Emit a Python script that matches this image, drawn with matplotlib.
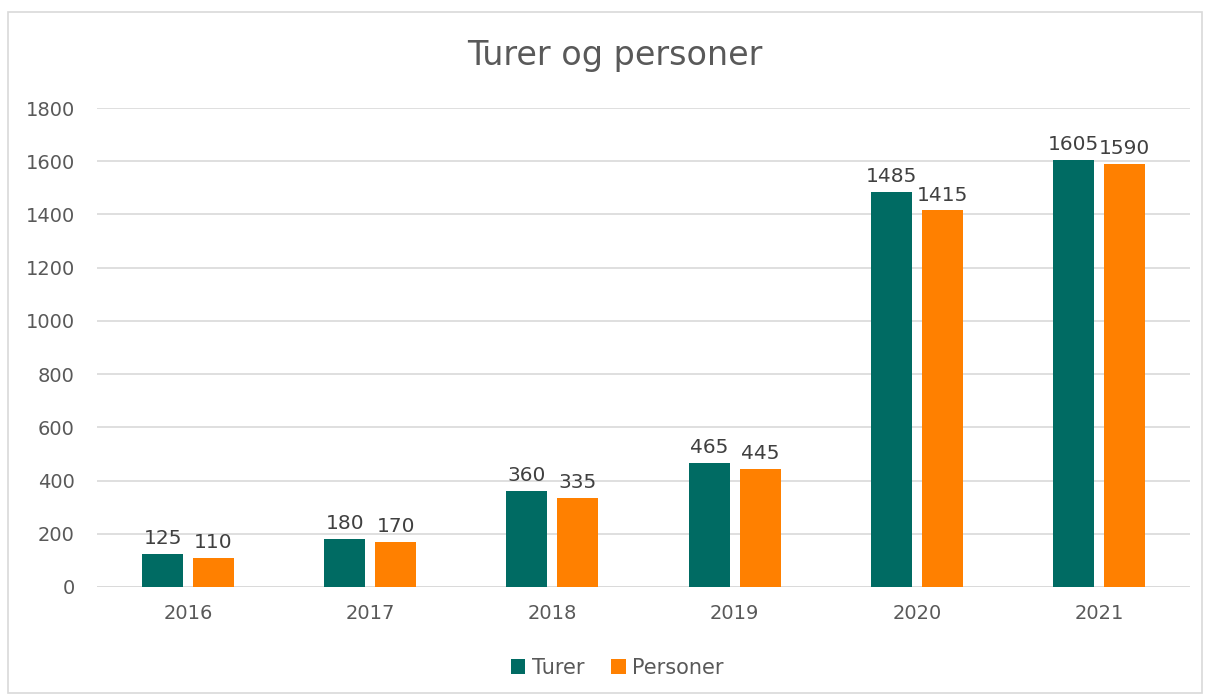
import matplotlib
matplotlib.use("Agg")
import matplotlib.pyplot as plt
import numpy as np
from matplotlib.patches import Rectangle

years = ["2016", "2017", "2018", "2019", "2020", "2021"]
turer = [125, 180, 360, 465, 1485, 1605]
personer = [110, 170, 335, 445, 1415, 1590]

teal = "#006B63"
orange = "#FF8000"
txt = "#595959"

plt.rcParams['font.family'] = ['DejaVu Sans']

fig = plt.figure(figsize=(12.1, 6.99), dpi=100)
fig.patches.append(Rectangle((8 / 1210, 6 / 699), 1194 / 1210, 681 / 699,
                             transform=fig.transFigure, fill=False,
                             edgecolor="#D9D9D9", lw=1.2))
ax = fig.add_axes([97 / 1210, 112 / 699, 1093 / 1210, 479 / 699])

x = np.arange(len(years))
w = 0.225
off = 0.14
b1 = ax.bar(x - off, turer, w, color=teal, label="Turer", zorder=3)
b2 = ax.bar(x + off, personer, w, color=orange, label="Personer", zorder=3)

for bars in (b1, b2):
    for r in bars:
        ax.text(r.get_x() + r.get_width() / 2, r.get_height() + 22, "%d" % r.get_height(),
                ha="center", va="bottom", fontsize=14.5, color="#404040")

ax.set_xlim(-0.5, len(years) - 0.5)
ax.set_ylim(0, 1800)
ax.set_yticks(range(0, 1801, 200))
ax.set_xticks(x)
ax.set_xticklabels(years)
ax.tick_params(axis="both", length=0, labelsize=14, labelcolor=txt)
ax.tick_params(axis="y", pad=16)
ax.tick_params(axis="x", pad=12)
ax.grid(axis="y", color="#D9D9D9", lw=1.2, zorder=0)
for s in ax.spines.values():
    s.set_visible(False)
ax.axhline(0, color="#D9D9D9", lw=1.2, zorder=2)

fig.text(0.508, 0.921, "Turer og personer", ha="center", va="center", fontsize=24, color=txt)
fig.legend(handles=[b1, b2], loc="center", bbox_to_anchor=(0.51, 0.045), ncol=2,
           frameon=False, fontsize=15, handlelength=0.7, handleheight=0.7,
           handletextpad=0.3, columnspacing=1.3, labelcolor=txt)

fig.savefig("out.png", dpi=100)
